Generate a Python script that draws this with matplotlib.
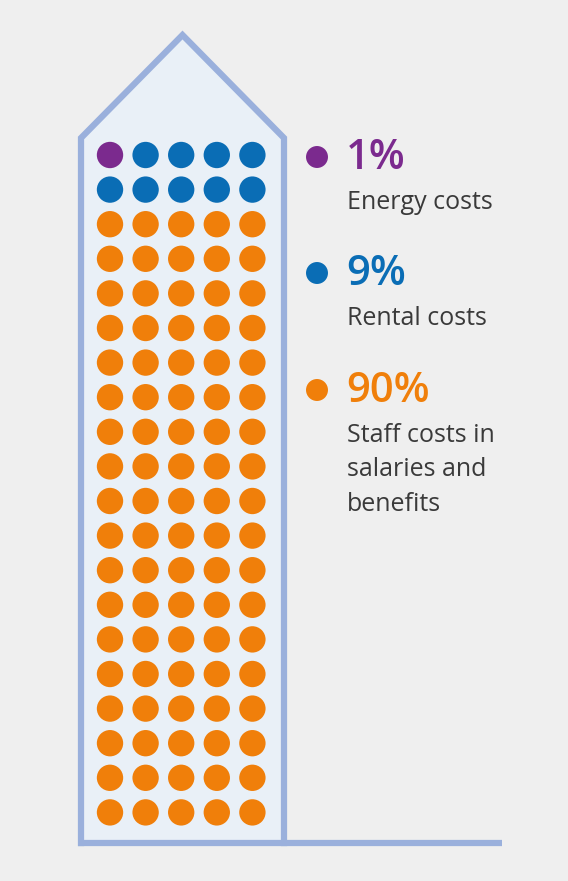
import numpy as np
import matplotlib.pyplot as plt
from matplotlib.patches import Polygon

# Data
categories = ['Energy costs', 'Rental costs', 'Staff costs in\nsalaries and\nbenefits']
percents = [1, 9, 90]
colors = ['#7b2a8e', '#0a6db5', '#f07f0a']

# Canvas: one pixel per data unit
width, height = 568, 881
dpi = 100
fig = plt.figure(figsize=(width / dpi, height / dpi), dpi=dpi)
fig.patch.set_facecolor('#efefef')
ax = fig.add_axes([0, 0, 1, 1])
ax.set_xlim(0, width)
ax.set_ylim(height, 0)
ax.axis('off')

line_col = '#9ab0dc'

# Building outline
left, right, eave, peak_y, ground = 81, 284, 138, 35, 843
house = [(left, ground), (left, eave), ((left + right) / 2, peak_y),
         (right, eave), (right, ground)]
ax.add_patch(Polygon(house, closed=True, facecolor='#e9f0f7', edgecolor='none', zorder=1))
xs, ys = zip(*house)
ax.plot(xs, ys, color=line_col, lw=4.5, solid_joinstyle='miter', zorder=2)
ax.plot([left - 3, 502], [ground, ground], color=line_col, lw=4.5,
        solid_capstyle='butt', zorder=2)

# Dot grid: 5 columns x 20 rows, one dot per percent
ncol = 5
dot_colors = np.repeat(colors, percents)
idx = np.arange(len(dot_colors))
col = idx % ncol
row = idx // ncol
gx = 110 + col * 35.6
gy = 155 + row * 34.6
ax.scatter(gx, gy, s=360, c=dot_colors, edgecolors='none', zorder=3)

# Legend on the right
leg_y = [157, 273, 390]
for pct, label, c, y in zip(percents, categories, colors, leg_y):
    ax.scatter([317], [y], s=250, c=c, edgecolors='none', zorder=3)
    ax.text(346, y + 1, f'{pct}%', color=c, fontsize=30, fontweight='semibold',
            family='Open Sans', va='center', ha='left')
    ax.text(347, y + 33, label, color='#3a3a3a', fontsize=18,
            family='Open Sans', va='top', ha='left', linespacing=1.5)

plt.savefig('out.png', dpi=dpi, facecolor=fig.get_facecolor())
plt.close()
